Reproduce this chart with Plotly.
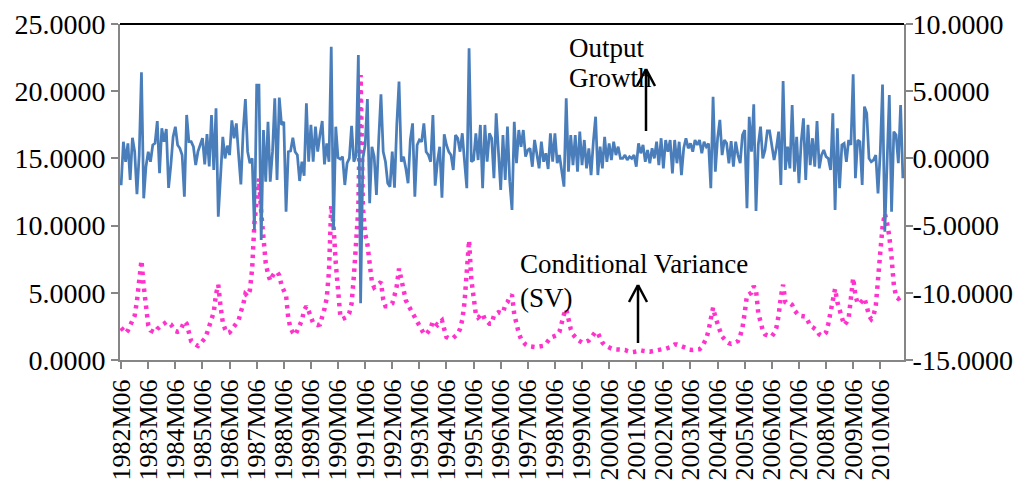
import plotly.graph_objects as go

# Conditional variance (SV), left axis
cond_var = [
    2.4, 2.2, 2.0, 2.2, 2.6, 2.95, 3.3, 4.4, 6.0, 7.4,
    5.5, 3.9, 2.6, 2.2, 2.1, 2.05, 2.3, 2.5, 2.6, 2.7,
    2.83, 2.75, 2.65, 2.4, 2.15, 2.1, 2.15, 2.5, 2.88, 2.7,
    1.95, 1.4, 1.25, 1.1, 1.05, 1.2, 1.4, 1.6, 2.0, 2.5,
    2.95, 3.55, 4.9, 5.6, 4.0, 2.8, 2.3, 2.0, 2.05, 2.3,
    2.55, 2.75, 2.95, 3.6, 4.1, 4.9, 4.75, 5.2, 6.8, 10.2,
    12.2, 13.5, 11.0, 8.9, 7.2, 6.4, 5.9, 6.25, 6.5, 6.55,
    6.3, 5.55, 5.2, 4.8, 3.1, 2.35, 2.05, 1.86, 2.2, 2.55,
    2.95, 3.7, 4.0, 3.65, 3.2, 2.75, 2.65, 2.6, 2.65, 3.15,
    3.8, 4.6, 6.6, 11.5, 10.0, 7.2, 4.9, 3.3, 3.05, 3.1,
    3.2, 3.5, 4.2, 6.2, 9.0, 11.3, 21.2, 11.4, 9.4, 8.6,
    7.2, 5.8, 5.4, 5.55, 5.7, 5.8, 4.5, 4.0, 4.0, 4.1,
    4.2, 4.8, 5.5, 6.8, 6.0, 5.0, 4.45, 4.1, 3.8, 3.45,
    3.2, 2.8, 2.45, 2.2, 1.95, 1.9, 2.1, 2.35, 2.9, 2.75,
    2.6, 2.8, 2.95, 2.3, 1.7, 1.62, 1.6, 1.65, 1.8, 1.95,
    2.3, 3.0, 4.3, 6.5, 8.9, 6.0, 4.3, 3.4, 3.15, 3.35,
    3.45, 3.0, 2.8, 2.7, 2.7, 3.3, 3.45, 3.55, 3.5, 3.5,
    4.1, 4.3, 4.7, 4.85, 3.4, 2.5, 2.0, 1.56, 1.3, 1.15,
    1.04, 1.0, 0.98, 0.97, 0.97, 1.0, 1.03, 1.06, 1.2, 1.5,
    1.65, 1.72, 1.8, 1.85, 2.1, 2.8, 3.4, 3.8, 2.8, 2.3,
    1.9, 1.65, 1.5, 1.4, 1.3, 1.32, 1.35, 1.45, 1.65, 1.9,
    2.1, 2.0, 1.56, 1.3, 1.1, 1.0, 0.92, 0.85, 0.8, 0.79,
    0.78, 0.79, 0.79, 0.75, 0.68, 0.62, 0.58, 0.6, 0.65, 0.7,
    0.72, 0.68, 0.64, 0.6, 0.61, 0.65, 0.7, 0.74, 0.75, 0.78,
    0.82, 0.84, 0.87, 0.95, 1.05, 1.15, 1.15, 1.1, 1.06, 1.02,
    0.9, 0.78, 0.72, 0.74, 0.77, 0.8, 0.8, 0.95, 1.2, 1.6,
    2.2, 3.3, 3.9, 3.2, 2.6, 2.2, 1.75, 1.5, 1.35, 1.25,
    1.2, 1.25, 1.3, 1.4, 1.8, 2.4, 3.5, 4.8, 4.9, 5.0,
    5.5, 5.2, 3.5, 2.7, 2.2, 1.9, 1.8, 1.78, 1.76, 2.0,
    2.4, 3.3, 4.7, 5.6, 4.3, 4.2, 4.22, 4.1, 3.7, 3.45,
    3.3, 3.27, 3.25, 3.22, 2.9, 2.55, 2.45, 2.35, 2.2, 1.9,
    1.8, 1.9, 2.05, 2.7, 3.6, 4.8, 5.3, 4.3, 3.8, 3.3,
    2.6, 2.8, 3.1, 4.6, 6.1, 4.8, 4.2, 4.2, 4.4, 4.6,
    4.0, 3.3, 3.05, 3.3, 4.0, 5.6, 8.0, 9.9, 10.9, 10.2,
    9.2, 7.6, 5.6, 4.7, 4.56, 4.66, 4.7,
]

# Output growth, right axis
output_growth = [
    -2.0, 1.24, -0.25, 1.12, -1.6, 1.54, 0.5, -2.67, 0.25, 6.4,
    -2.97, -0.6, 0.5, -0.25, 1.0, 1.12, 2.78, -1.1, 2.24, 1.24,
    2.19, -2.2, -0.5, 1.6, 2.36, 1.0, 0.75, 0.25, -2.85, 3.23,
    1.24, 1.24, 0.87, -0.5, 0.5, 1.0, 1.5, -0.44, 1.8, -0.6,
    3.23, -0.86, 3.73, -4.34, -1.0, 1.6, 0.0, 0.95, 0.25, 2.83,
    1.5, 2.6, 0.25, -1.93, 1.99, 4.42, 0.5, -0.36, 0.0, -5.33,
    5.46, 5.46, -6.07, 2.11, -1.73, 2.73, -1.73, 0.5, 4.47, -1.6,
    4.52, 2.49, 2.73, -3.97, 0.5, 0.55, 1.54, 0.5, 0.25, -1.68,
    -0.25, -1.29, 4.1, -0.25, 2.49, -0.25,
    2.36, 0.5, 1.74, 2.78, -0.44, 1.12, -0.25, 8.31, -5.33, 2.36,
    0.05, -0.05, 0.13, -1.98, -0.36, 0.0, 2.43, -0.25, 0.2, 7.69,
    -10.78, 0.0, 1.0, 4.42, -3.34, 0.87, 0.13, -2.72, 1.37, 4.77,
    0.5, -0.25, -1.85, -2.1, 0.5, -2.18, 2.49, 5.71, -0.25, 0.13,
    -0.74, -1.85, 1.37, 2.61, -2.85, 1.0, 1.37, 1.24, 2.61, 0.5,
    0.25, -0.25, 3.23, -2.03, -0.25, 0.87, -2.92, 1.79, 1.0, 0.5,
    0.25, -0.86, 1.74, 1.5, 0.5, 1.87, -0.25, -2.22, 8.19, -0.25,
    -0.12, 1.87, -0.12, 2.49, -2.22, 2.49, -0.25, 1.87, 1.5, -1.48,
    3.36, 0.75, -2.35, 1.74, -1.6, 2.36,
    -1.73, -3.84, 2.73, -0.36, 2.11, 0.87, 2.11, 0.13, 0.62, 0.75,
    -0.62, 1.37, 0.25, -0.74, 1.24, -0.25, 0.38, -0.79, 1.87, -0.25,
    1.87, -0.36, 0.25, -0.99, -2.1, 4.47, -0.99, 1.74, -0.5, 1.74,
    -0.99, 1.99, -0.5, 1.37, -0.74, 0.75, -1.24, 1.24, 3.1, -1.24,
    0.87, -0.74, 1.61, -0.25, 1.12, -0.12, 1.24, 0.25, 0.87, 0.0,
    0.0, 0.25, -0.12, 0.13, 0.0, 0.25, -0.62, 1.12, 0.38, 1.0,
    -0.25, 0.62, -0.36, 0.75, 0.0, 1.24, -0.5, 1.5, -0.74, 1.37,
    0.5, 1.37, -1.11, 1.37, -0.36, 1.24, -1.24, 0.75, 1.5, 0.75,
    1.12, 0.5, 1.37, 1.0, 1.37, 0.38, 1.24,
    0.87, 1.1, -2.22, 4.59, -0.99, 1.5, 2.86, 0.25, 1.37, 1.12,
    -0.36, 1.29, -0.62, 1.24, 0.25, -0.36, 1.74, 2.11, -3.71, 3.1,
    0.5, 4.03, -3.91, 1.0, 2.36, 0.0, 0.62, 2.04, 2.04, 1.0,
    -0.12, 0.75, 1.99, -1.98, 5.76, -0.86, 0.87, -0.74, 3.97, -0.99,
    1.61, -1.85, 1.24, 2.98, -1.6, 2.49, -0.5, 1.5, -0.62, 2.78,
    -0.74, 0.25, 0.62, 0.13, 0.0, -0.86, 3.36, -3.84, 2.24, -2.22,
    1.0, 1.12, -0.25, 1.37, 1.0, 6.26, -1.48, 1.37, 1.24, -1.98,
    3.85, 3.36, 0.0, -0.25, -0.12, 0.25, -2.6, 0.5, 5.5, -5.45,
    0.0, 4.72, -3.97, 1.99, 1.74, -0.36, 3.97, -1.48,
]

N = min(len(cond_var), len(output_growth))
cond_var = cond_var[:N]
output_growth = output_growth[:N]

# monthly category labels starting 1982M06
months = [f"{1982 + (5 + k) // 12}M{(5 + k) % 12 + 1:02d}" for k in range(N)]

x_tick_labels = [
    "1982M06", "1983M06", "1984M06", "1985M06", "1986M06", "1987M06",
    "1988M06", "1989M06", "1990M06", "1991M06", "1992M06", "1993M06",
    "1994M06", "1995M06", "1996M06", "1997M06", "1998M06", "1999M06",
    "2000M06", "2001M06", "2002M06", "2003M06", "2004M06", "2005M06",
    "2006M06", "2007M06", "2008M06", "2009M06", "2010M06",
]
left_tick_vals = [0, 5, 10, 15, 20, 25]
left_tick_text = ["0.0000", "5.0000", "10.0000", "15.0000", "20.0000", "25.0000"]
right_tick_vals = [-15, -10, -5, 0, 5, 10]
right_tick_text = ["-15.0000", "-10.0000", "-5.0000", "0.0000", "5.0000", "10.0000"]

FONT = "Liberation Serif, Times New Roman, serif"
AXIS_GRAY = "#868686"

# the page body has an 8px margin; the figure is sized/offset to compensate
OFF = 8
FIG_W, FIG_H = 1025 - OFF, 486 - OFF
PL, PT, PR, PB = 120, 24, 904, 360   # plot area in screen pixels
PW, PH = PR - PL, PB - PT

fig = go.Figure()
fig.add_trace(go.Scatter(
    x=months, y=output_growth, mode="lines", yaxis="y2",
    line=dict(color="#4A7EBB", width=2.75), name="Output Growth",
))
fig.add_trace(go.Scatter(
    x=months, y=cond_var, mode="lines", yaxis="y",
    line=dict(color="#FF33CC", width=4.5, dash="3.5px,5px"), name="Conditional Variance (SV)",
))

axis_common = dict(
    showline=True, linecolor=AXIS_GRAY, linewidth=2,
    ticks="outside", ticklen=7, tickwidth=1.5, tickcolor=AXIS_GRAY,
    showgrid=False, zeroline=False, automargin=False,
)

fig.update_layout(
    width=FIG_W, height=FIG_H,
    margin=dict(l=PL - OFF, r=FIG_W - (PR - OFF), t=PT - OFF, b=FIG_H - (PB - OFF)),
    paper_bgcolor="white", plot_bgcolor="white",
    showlegend=False,
    font=dict(family=FONT, color="black"),
    xaxis=dict(
        type="category", categoryorder="array", categoryarray=months,
        range=[-0.5, N - 0.5],
        tickmode="array", tickvals=x_tick_labels, ticktext=x_tick_labels,
        tickangle=-90, tickfont=dict(family=FONT, size=26, color="black"),
        **axis_common,
    ),
    yaxis=dict(
        range=[0, 25], tickmode="array", tickvals=left_tick_vals, ticktext=left_tick_text,
        tickfont=dict(family=FONT, size=28, color="black"),
        **axis_common,
    ),
    yaxis2=dict(
        range=[-15, 10], overlaying="y", side="right",
        tickmode="array", tickvals=right_tick_vals, ticktext=right_tick_text,
        tickfont=dict(family=FONT, size=28, color="black"),
        ticklabelstandoff=-6,
        **axis_common,
    ),
)

# top border of the plot area
fig.add_shape(type="line", xref="paper", yref="paper", x0=0, x1=1, y0=1, y1=1,
              line=dict(color="black", width=2))

def px(xp):
    return (xp - PL) / PW
def py(yp):
    return 1 - (yp - PT) / PH

def arrow(xp, y_top, y_bot):
    fig.add_shape(type="line", xref="paper", yref="paper",
                  x0=px(xp), x1=px(xp), y0=py(y_bot), y1=py(y_top),
                  line=dict(color="black", width=2.5))
    for dx in (-9, 9):
        fig.add_shape(type="line", xref="paper", yref="paper",
                      x0=px(xp + dx), x1=px(xp), y0=py(y_top + 17), y1=py(y_top),
                      line=dict(color="black", width=2.5))

arrow(646, 69, 131)
arrow(638, 285, 343)

for text, xl, yc in [("Output", 567, 47.6), ("Growth", 567, 77.6),
                     ("Conditional Variance", 518, 264.2), ("(SV)", 518, 297.6)]:
    fig.add_annotation(text=text, xref="paper", yref="paper", x=px(xl), y=py(yc),
                       xanchor="left", yanchor="middle", showarrow=False,
                       font=dict(family=FONT, size=27, color="black"))

fig.write_html("out.html")
